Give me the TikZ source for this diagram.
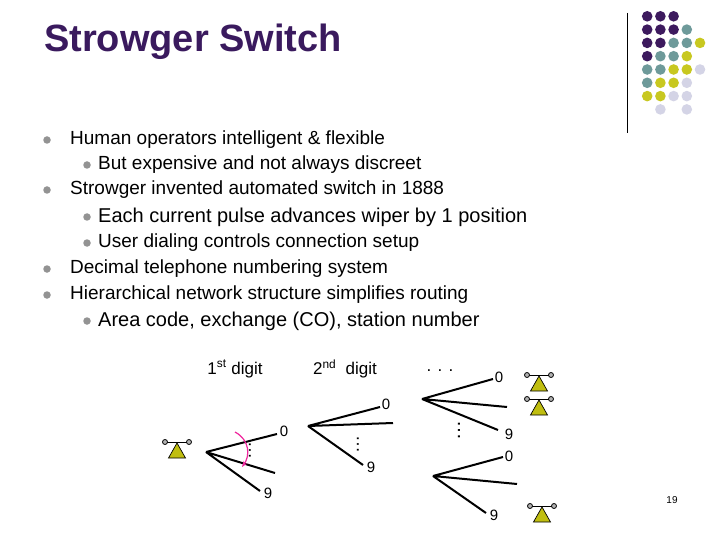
\documentclass[tikz,border=0pt]{standalone}
\usepackage{fontspec}
\setmainfont{Liberation Sans}
\usetikzlibrary{arrows.meta}
\definecolor{cP}{HTML}{3D1A5E}
\definecolor{cT}{HTML}{6E9A9A}
\definecolor{cY}{HTML}{C8C820}
\definecolor{cL}{HTML}{D4D4E6}
\definecolor{cN}{HTML}{FFFFFF}
\definecolor{ttl}{HTML}{3A1A5E}
\definecolor{phy}{HTML}{C0BE10}
\begin{document}
\begin{tikzpicture}[x=1pt,y=-1pt,
  txt/.style={anchor=west,inner sep=0pt,font=\fontsize{19}{22}\selectfont},
  txtb/.style={anchor=west,inner sep=0pt,font=\fontsize{20}{23}\selectfont},
  lbl/.style={inner sep=0pt,font=\fontsize{17}{20}\selectfont},
  dig/.style={inner sep=0pt,font=\fontsize{15}{17}\selectfont},
  wire/.style={draw=black,line width=2pt},
  bul/.style={fill=gray!85,circle,inner sep=0pt,minimum size=7.5pt}]
\useasboundingbox (0,0) rectangle (720,540);
\fill[white] (0,0) rectangle (720,540);
% title
\node[anchor=west,inner sep=0pt,text=ttl,font=\fontsize{38}{42}\selectfont\bfseries] (title) at (44,42) {Strowger Switch};
% decoration
\draw[line width=0.8pt] (627,13) -- (627,133);
\foreach \r/\row in {1/{P,P,P,N,N},2/{P,P,P,T,N},3/{P,P,T,T,Y},4/{P,T,T,Y,N},5/{T,T,Y,Y,L},6/{T,Y,Y,L,N},7/{Y,Y,L,L,N},8/{N,L,N,L,N}}{
  \foreach \c [count=\i] in \row {
    \fill[c\c] ({634+13.2*\i},{3+13.3*\r}) circle (5.3);
  }}
% bullets
\foreach \y in {140,190,269,295} \node[bul] at (47,\y) {};
\foreach \y in {165,217,243,321} \node[bul] at (87,\y) {};
\node[txt] (l1) at (70,140) {Human operators intelligent \& flexible};
\node[txt] (l2) at (98,165) {But expensive and not always discreet};
\node[txt] (l3) at (70,190) {Strowger invented automated switch in 1888};
\node[txtb] (l4) at (98,217) {Each current pulse advances wiper by 1 position};
\node[txt] (l5) at (98,243) {User dialing controls connection setup};
\node[txt] (l6) at (70,269) {Decimal telephone numbering system};
\node[txt] (l7) at (70,295) {Hierarchical network structure simplifies routing};
\node[txtb] (l8) at (98,321) {Area code, exchange (CO), station number};
% labels
\node[lbl] (d1) at (235,369) {1\textsuperscript{st} digit};
\node[lbl] (d2) at (345,369) {2\textsuperscript{nd}\ \ digit};
\node[lbl] (d3) at (440,371) {. . .};
% phone style
\tikzset{phone/.pic={
  \fill[phy,draw=black,line width=0.7pt] (-8.5,9) -- (0,-6) -- (8.5,9) -- cycle;
  \draw[line width=0.9pt] (-11,-7) -- (11,-7);
  \fill[gray!60,draw=black,line width=0.8pt] (-12,-7) circle (2.5) (12,-7) circle (2.5);
}}
\pic at (177,449) {phone};
\pic at (539,382) {phone};
\pic at (539,406) {phone};
\pic at (542,513) {phone};
% fan 1
\coordinate (a1) at (206,452);
\coordinate (m1) at (275,473);
\node[dig] (z1) at (284,431) {0};
\node[dig] (n1) at (268,493) {9};
\draw[wire] (a1) -- (277,434) (a1) -- (m1) (a1) -- (260,491);
\node[dig] (v1) at (250,450) {\rotatebox{90}{\fontsize{18}{18}\selectfont\dots}};
\draw[magenta!85!white,line width=1.2pt,-{Stealth[length=6pt]}] (235,432) .. controls (250,440) and (250,456) .. (242,467);
% fan 2
\coordinate (a2) at (308,426);
\node[dig] (z2) at (386,404) {0};
\node[dig] (n2) at (371,467) {9};
\draw[wire] (a2) -- (380,407) (a2) -- (393,423) (a2) -- (363,465);
\node[dig] (v2) at (358,444) {\rotatebox{90}{\fontsize{18}{18}\selectfont\dots}};
% fan 3 upper
\coordinate (a3) at (422,399);
\node[dig] (z3) at (499,377) {0};
\node[dig] (n3) at (509,434) {9};
\draw[wire] (a3) -- (493,379) (a3) -- (507,407) (a3) -- (498,430);
\node[dig] (v3) at (459,430) {\rotatebox{90}{\fontsize{20}{20}\selectfont\dots}};
% fan 3 lower
\coordinate (a4) at (433,476);
\node[dig] (z4) at (509,456) {0};
\node[dig] (n4) at (494,515) {9};
\draw[wire] (a4) -- (503,457) (a4) -- (517,484) (a4) -- (486,513);
% page number
\node[inner sep=0pt,font=\fontsize{10}{12}\selectfont] (pg) at (672,500) {19};
\end{tikzpicture}
\end{document}
